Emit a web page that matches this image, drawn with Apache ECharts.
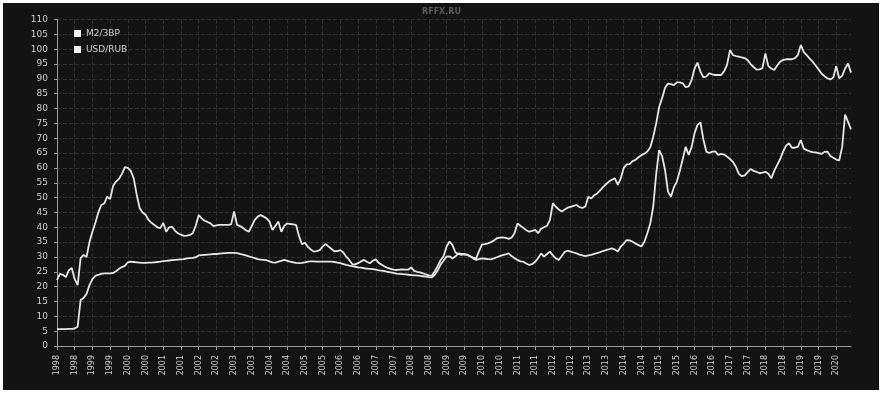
<!DOCTYPE html>
<html>
<head>
<meta charset="utf-8">
<script src="https://cdn.jsdelivr.net/npm/echarts@6/dist/echarts.min.js"></script>
<style>
html,body{margin:0;padding:0;background:#ffffff;}
#chart{width:883px;height:397px;}
</style>
</head>
<body>
<div id="chart"></div>
<script>
// Monthly categories Jan 1998 .. Jun 2020
const startYear = 1998;
const endYear = 2020;
const lastMonthOfEnd = 6;
const categories = [];
for (let y = startYear; y <= endYear; y++) {
  for (let m = 1; m <= 12; m++) {
    if (y === endYear && m > lastMonthOfEnd) break;
    categories.push(y + '-' + (m < 10 ? '0' + m : m));
  }
}

const seriesNames = ['M2/ЗВР', 'USD/RUB'];

const m2Reserves = [
  22.2,24.3,24,23.2,25.5,26.3,22.5,20.5,29.6,30.7,30,35,
  38.5,41.5,45,47.5,48,50.3,49.5,53.9,55.4,56.3,58,60.3,
  60,59,56.5,51,46.5,45,44.2,42.5,41.5,40.8,40,39.7,
  41.5,38.5,40,40.2,38.8,38,37.5,37.1,37.2,37.4,38,40.5,
  44.1,43,42.2,41.8,41.3,40.4,40.6,40.8,40.8,40.8,40.8,41,
  45.3,40.8,40.4,39.8,39,38.5,40.5,42.5,43.6,44.1,43.6,43,
  41.9,39.1,40.5,41.9,38.5,40.5,41.3,41.1,41,40.8,37,34.3,
  34.8,33.4,32.5,31.8,32,32.3,33.5,34.4,33.5,32.7,31.9,32,
  32.3,31.5,30.1,29,27.6,27.5,27.9,28.5,29,28.4,27.9,28.7,
  29.2,28,27.4,26.8,26.3,26,25.7,25.6,25.7,25.8,25.7,25.7,
  26.5,25.3,25,24.8,24.5,24.1,23.8,23.7,25.2,27,29,30.3,
  33.5,35.2,34,31.5,31,30.7,31,30.8,30.2,29.8,29.5,32,
  34.2,34.3,34.6,35,35.5,36.3,36.5,36.6,36.4,36.1,36.5,38,
  41.3,40.5,39.8,39,38.5,38.8,39.1,38,39.5,40,40.5,42.5,
  48.1,46.9,46,45.3,46,46.6,46.9,47.2,47.5,46.8,46.5,47,
  50.3,49.7,50.8,51.4,52.4,53.5,54.5,55.4,56,56.5,54.3,56.5,
  60,61.2,61.3,62.3,62.7,63.6,64.3,64.8,65.5,67,70.5,75,
  80.5,83.5,87,88.4,88.2,87.9,88.8,88.8,88.5,87.2,87.5,89.6,
  93.5,95.5,92.4,90.5,90.8,91.9,91.5,91.3,91.3,91.3,92.5,94.7,
  99.7,98,97.7,97.5,97.2,97,96.3,95,94,93.1,93.2,93.6,
  98.6,94.3,93.5,93,94.5,95.8,96.4,96.6,96.6,96.6,97,98,
  101.4,99,98,96.8,95.8,94.5,93.2,91.8,90.9,90.2,89.8,90.5,
  94.3,90.2,91,93.5,95.2,92.1
];

const usdRub = [
  5.7,5.7,5.7,5.7,5.8,5.8,5.9,6.5,15.5,16.2,17.5,20.5,
  22.5,23.6,24,24.3,24.5,24.5,24.5,24.6,25.2,26,26.6,27,
  28.2,28.4,28.3,28.2,28.1,28,28,28.1,28.1,28.2,28.3,28.4,
  28.6,28.7,28.8,28.9,29,29.1,29.2,29.3,29.5,29.6,29.7,29.9,
  30.5,30.6,30.7,30.8,30.9,31,31,31.1,31.2,31.3,31.4,31.4,
  31.4,31.3,31,30.8,30.5,30.2,29.9,29.6,29.3,29.1,29,28.9,
  28.5,28.2,28.1,28.4,28.7,29,28.7,28.4,28.2,28,27.9,28,
  28.2,28.4,28.5,28.5,28.4,28.4,28.4,28.4,28.4,28.4,28.3,28.1,
  27.9,27.6,27.3,27.1,26.9,26.7,26.5,26.4,26.2,26.1,26,25.9,
  25.7,25.5,25.4,25.2,25,24.8,24.6,24.4,24.3,24.2,24.1,24,
  23.9,23.8,23.8,23.6,23.5,23.4,23.2,23.1,24,25.5,27.5,28.8,
  30.1,30.2,29.5,30.2,31.2,31,30.8,30.7,30.2,29.5,29,29.3,
  29.5,29.4,29.3,29.2,29.5,29.9,30.3,30.6,30.9,31.2,30.3,29.6,
  29,28.5,28.4,27.8,27.3,27.6,28.4,29.6,31.2,30.1,31,31.8,
  30.5,29.5,29,30.3,31.7,32.1,31.8,31.5,31.2,30.8,30.5,30.3,
  30.5,30.7,31,31.3,31.6,32,32.3,32.6,32.9,32.5,31.8,33.5,
  34.5,35.7,35.6,35.1,34.5,34,33.5,35.1,38,41.3,47,58,
  66,64,59.3,52,50.3,53.5,55.4,59,63,67.1,64.4,67,
  71.7,74.5,75.3,69.5,65.5,65,65.5,65.6,64.4,64.7,64.5,63.8,
  63,62,60.4,58,57.2,57.5,58.6,59.6,59,58.7,58.2,58.4,
  58.7,58,56.5,59,61,63,65.5,67.5,68.3,66.8,66.8,67.1,
  69.4,66.5,66,65.6,65.3,65.2,65,64.7,65.4,65.5,64,63.4,
  62.8,62.5,67,78,75.5,73
];

const yMin = 0, yMax = 110, yStep = 5;

const chart = echarts.init(document.getElementById('chart'), null, {renderer: 'canvas'});
const lineColor = '#e6e6e6';
const txt = '#cfcfcf';

chart.setOption({
  backgroundColor: '#ffffff',
  animation: false,
  graphic: [{
    type: 'rect', z: -10, silent: true,
    shape: {x: 3, y: 3, width: 876, height: 387},
    style: {fill: '#131313'}
  }],
  title: {
    text: 'RFFX.RU',
    left: 'center', top: 3,
    textStyle: {color: '#5c5c5c', fontSize: 8, fontWeight: 'bold', fontFamily: 'DejaVu Sans'}
  },
  legend: {
    data: seriesNames,
    orient: 'vertical',
    left: 69, top: 24,
    icon: 'rect',
    itemWidth: 7, itemHeight: 7, itemGap: 7,
    textStyle: {color: txt, fontSize: 9, fontFamily: 'DejaVu Sans'}
  },
  grid: {left: 57, right: 32, top: 19.5, bottom: 51, containLabel: false},
  xAxis: {
    type: 'category',
    data: categories,
    boundaryGap: false,
    axisLine: {lineStyle: {color: '#9a9a9a', width: 1}},
    axisTick: {show: true, interval: 5, length: 4, lineStyle: {color: '#9a9a9a'}},
    axisLabel: {
      interval: 5, rotate: 90, color: txt, fontSize: 8, margin: 9,
      fontFamily: 'DejaVu Sans',
      formatter: v => v.slice(0, 4)
    },
    splitLine: {show: true, interval: 5, lineStyle: {color: '#303030', type: 'dashed', width: 1}}
  },
  yAxis: {
    type: 'value',
    min: yMin, max: yMax, interval: yStep,
    axisLine: {show: true, lineStyle: {color: '#9a9a9a'}},
    axisTick: {show: true, length: 3, lineStyle: {color: '#9a9a9a'}},
    axisLabel: {color: txt, fontSize: 9, margin: 9, fontFamily: 'DejaVu Sans'},
    splitLine: {show: true, lineStyle: {color: '#303030', type: 'dashed', width: 1}}
  },
  series: [
    {
      name: seriesNames[0], type: 'line', data: m2Reserves,
      showSymbol: false, symbol: 'none',
      lineStyle: {color: lineColor, width: 1.8},
      itemStyle: {color: '#f2f2f2'}
    },
    {
      name: seriesNames[1], type: 'line', data: usdRub,
      showSymbol: false, symbol: 'none',
      lineStyle: {color: lineColor, width: 1.8},
      itemStyle: {color: '#f2f2f2'}
    }
  ]
});
</script>
</body>
</html>
